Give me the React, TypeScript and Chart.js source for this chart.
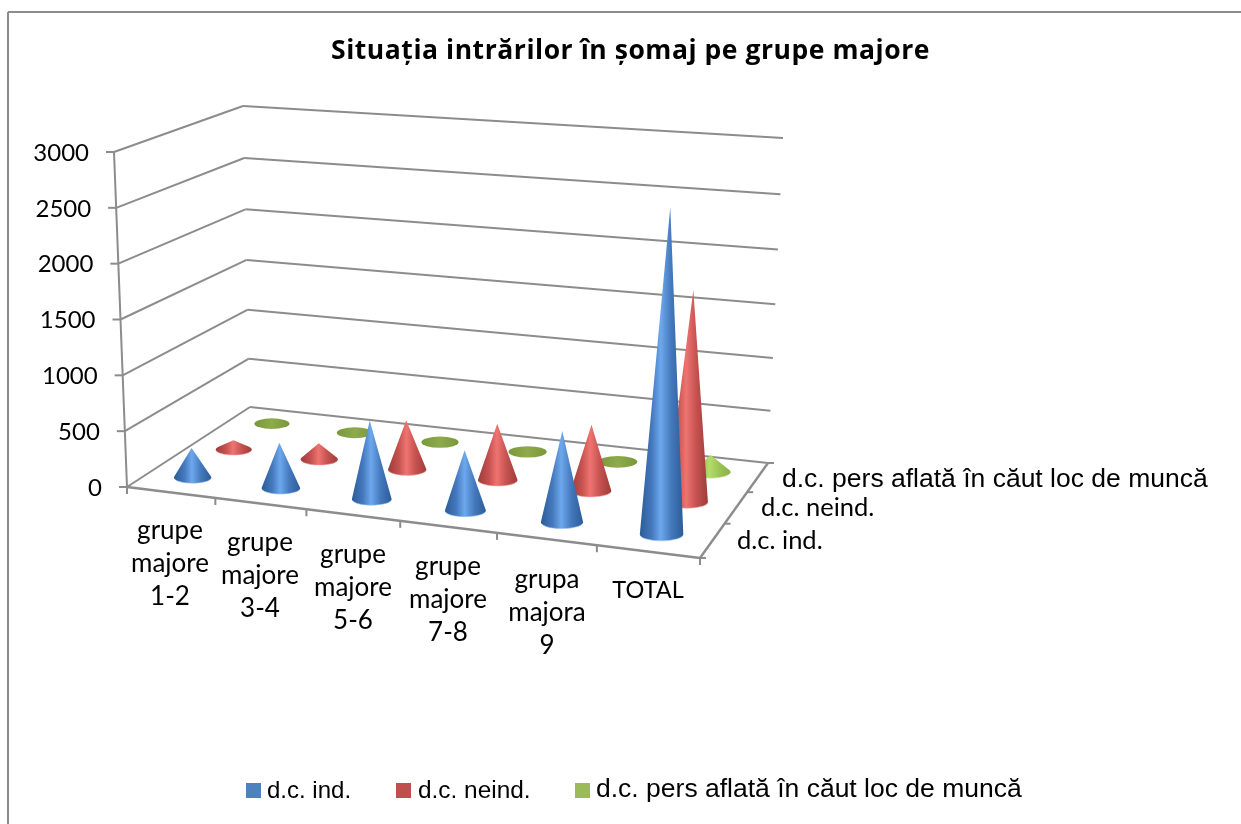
import React, { useEffect, useRef } from "react";
import { Chart, BarController, BarElement, CategoryScale, LinearScale } from "chart.js";

const TITLE = "Situația intrărilor în șomaj pe grupe majore";
const categories = ["grupe majore 1-2", "grupe majore 3-4", "grupe majore 5-6", "grupe majore 7-8", "grupa majora 9", "TOTAL"];
const categoryLines = [["grupe", "majore", "1-2"], ["grupe", "majore", "3-4"], ["grupe", "majore", "5-6"], ["grupe", "majore", "7-8"], ["grupa", "majora", "9"], ["TOTAL"]];
const seriesNames = ["d.c. ind.", "d.c. neind.", "d.c. pers aflată în căut loc de muncă"];
const ind = [270, 410, 700, 530, 790, 2780];
const neind = [90, 155, 460, 520, 600, 1880];
const caut = [10, 12, 10, 14, 12, 160];
const yTicks = { min: 0, max: 3000, step: 500 };

const LINE = "#8c8c8c";
const LATO = "Lato, sans-serif";
const ARIAL = "'Liberation Sans', Arial, sans-serif";

const palettes = [
  { edge: "#2c5c98", mid: "#4579bd", light: "#6ea8ec", flat: "#4a83c9", rim: "#8fc0f5", swatch: "#4F81BD" },
  { edge: "#9c3d3a", mid: "#c65250", light: "#ee7471", flat: "#c0504d", rim: "#f5a09e", swatch: "#C0504D" },
  { edge: "#8cb04a", mid: "#9cc455", light: "#b4dc6a", flat: "#7a983a", rim: "#cfe89a", swatch: "#9BBB59" },
];

// Perspective frame of the 3-D box (screen layout, not data)
type Pt = { x: number; y: number };
const floorQuad: Pt[] = [{ x: 127, y: 487 }, { x: 700, y: 558 }, { x: 768, y: 463 }, { x: 250, y: 407 }];
const topQuad: Pt[] = [{ x: 114, y: 152 }, { x: 714, y: 196 }, { x: 783, y: 138 }, { x: 243, y: 106 }];

function homography(q: Pt[]) {
  const [p0, p1, p2, p3] = q;
  const dx1 = p1.x - p2.x, dx2 = p3.x - p2.x, sx = p0.x - p1.x + p2.x - p3.x;
  const dy1 = p1.y - p2.y, dy2 = p3.y - p2.y, sy = p0.y - p1.y + p2.y - p3.y;
  const det = dx1 * dy2 - dx2 * dy1;
  const g = (sx * dy2 - dx2 * sy) / det;
  const h = (dx1 * sy - sx * dy1) / det;
  const a = p1.x - p0.x + g * p1.x, b = p3.x - p0.x + h * p3.x;
  const d = p1.y - p0.y + g * p1.y, e = p3.y - p0.y + h * p3.y;
  return (u: number, v: number): Pt => {
    const w = 1 + g * u + h * v;
    return { x: (p0.x + a * u + b * v) / w, y: (p0.y + d * u + e * v) / w };
  };
}
const floorMap = homography(floorQuad);
const topMap = homography(topQuad);
function P(u: number, v: number, t: number): Pt {
  const a = floorMap(u, v), b = topMap(u, v);
  const tt = t - 0.045 * v * t * (1 - t);
  return { x: a.x + (b.x - a.x) * tt, y: a.y + (b.y - a.y) * tt };
}

class ConeController extends BarController {
  static id = "cone";
  static defaults = {};
  draw() {
    const meta: any = this.getMeta();
    const ctx: CanvasRenderingContext2D = (this as any).chart.ctx;
    const xs = meta.xScale, ys = meta.yScale;
    const n = xs.getLabels().length;
    const series = meta.index;
    const depth = (series + 0.5) / 3;
    const pal = palettes[series];
    for (let i = 0; i < n; i++) {
      const val = this.getParsed(i) as any;
      const u = (xs.getPixelForValue(i) - xs.left) / (xs.right - xs.left);
      const t = (ys.bottom - ys.getPixelForValue(val.y)) / (ys.bottom - ys.top);
      const c = P(u, depth, 0);
      const apex = P(u, depth, t);
      const l = P(u - 1 / (2 * n), depth, 0), r = P(u + 1 / (2 * n), depth, 0);
      const rx = (r.x - l.x) * 0.215;
      const ry = rx * 0.3;
      const h = c.y - apex.y;
      ctx.save();
      if (h <= ry * 1.15) {
        const g = ctx.createLinearGradient(c.x - rx, 0, c.x + rx, 0);
        g.addColorStop(0, pal.flat);
        g.addColorStop(0.5, "#8dab4c");
        g.addColorStop(1, pal.flat);
        ctx.fillStyle = g;
        ctx.beginPath();
        ctx.ellipse(c.x, c.y, rx, ry, 0, 0, Math.PI * 2);
        ctx.fill();
        ctx.restore();
        continue;
      }
      const s = Math.asin(ry / h);
      const g = ctx.createLinearGradient(c.x - rx, 0, c.x + rx, 0);
      g.addColorStop(0, pal.edge);
      g.addColorStop(0.28, pal.mid);
      g.addColorStop(0.48, pal.light);
      g.addColorStop(0.72, pal.mid);
      g.addColorStop(1, pal.edge);
      ctx.fillStyle = g;
      ctx.beginPath();
      ctx.moveTo(apex.x, apex.y);
      ctx.ellipse(c.x, c.y, rx, ry, 0, Math.PI + s, -s, true);
      ctx.closePath();
      ctx.fill();
      ctx.strokeStyle = pal.rim;
      ctx.globalAlpha = 0.55;
      ctx.lineWidth = 1;
      ctx.beginPath();
      ctx.ellipse(c.x, c.y, rx, ry, 0, 0.25, Math.PI - 0.25);
      ctx.stroke();
      ctx.restore();
    }
  }
}

function text(ctx: CanvasRenderingContext2D, s: string, x: number, y: number, font: string, align: CanvasTextAlign = "left") {
  ctx.font = font;
  ctx.fillStyle = "#000";
  ctx.textAlign = align;
  ctx.textBaseline = "middle";
  ctx.fillText(s, x, y);
}

function seg(ctx: CanvasRenderingContext2D, a: Pt, b: Pt, w = 2) {
  ctx.lineWidth = w;
  ctx.strokeStyle = LINE;
  ctx.beginPath();
  ctx.moveTo(a.x, a.y);
  ctx.lineTo(b.x, b.y);
  ctx.stroke();
}

const labelAnchors = [[170, 531], [260, 543], [353, 555], [448, 567], [547, 580], [648, 590]];
const depthAnchors = [[737, 541], [761, 508], [782, 480]];
const depthFonts = [`25.5px ${LATO}`, `25.5px ${LATO}`, `26.5px ${ARIAL}`];
const legendSlots = [
  { box: 246, text: 267, y: 791, size: 24, boxY: 783 },
  { box: 396, text: 418, y: 791, size: 24.4, boxY: 783 },
  { box: 575, text: 596, y: 790, size: 26.5, boxY: 783 },
];

const framePlugin = {
  id: "frame",
  beforeDatasetsDraw(chart: any) {
    const ctx: CanvasRenderingContext2D = chart.ctx;
    const ys = chart.scales.y, xs = chart.scales.x;
    ctx.save();
    // outer border
    seg(ctx, { x: 8, y: 12 }, { x: 1241, y: 12 });
    seg(ctx, { x: 8, y: 12 }, { x: 8, y: 824 });
    // walls and floor
    ys.ticks.forEach((tk: any) => {
      const t = (ys.bottom - ys.getPixelForValue(tk.value)) / (ys.bottom - ys.top);
      const a = P(0, 0, t), b = P(0, 1, t), c = P(1, 1, t);
      seg(ctx, a, b);
      seg(ctx, b, c);
      seg(ctx, a, { x: a.x - 8, y: a.y });
      text(ctx, String(tk.value), a.x - 25, a.y + 1, `24px ${LATO}`, "right");
    });
    seg(ctx, P(0, 0, 0), P(0, 0, 1));
    seg(ctx, P(0, 0, 0), P(1, 0, 0), 2.4);
    seg(ctx, P(1, 0, 0), P(1, 1, 0), 2.4);
    const n = xs.getLabels().length;
    for (let i = 0; i <= n; i++) {
      const p = P(i / n, 0, 0);
      seg(ctx, p, { x: p.x, y: p.y + 7 });
    }
    for (let k = 0; k <= 3; k++) {
      const p = P(1, k / 3, 0);
      seg(ctx, p, { x: p.x + 6, y: p.y });
    }
    // title, spaced out to the reference width
    const titleFont = `bold 26.5px 'Open Sans', sans-serif`;
    ctx.font = titleFont;
    (ctx as any).letterSpacing = "0px";
    const w0 = ctx.measureText(TITLE).width;
    (ctx as any).letterSpacing = `${(599 - w0) / TITLE.length}px`;
    text(ctx, TITLE, 630.5, 51, titleFont, "center");
    (ctx as any).letterSpacing = "0px";
    categoryLines.forEach((lines, i) => {
      const size = lines.length === 1 ? 23.5 : 26;
      lines.forEach((ln, j) => text(ctx, ln, labelAnchors[i][0], labelAnchors[i][1] + j * 33, `${size}px ${LATO}`, "center"));
    });
    seriesNames.forEach((nm, i) => text(ctx, nm, depthAnchors[i][0], depthAnchors[i][1], depthFonts[i]));
    seriesNames.forEach((nm, i) => {
      const sl = legendSlots[i];
      ctx.fillStyle = palettes[i].swatch;
      ctx.fillRect(sl.box, sl.boxY, 15, 15);
      text(ctx, nm, sl.text, sl.y, `${sl.size}px ${ARIAL}`);
    });
    ctx.restore();
  },
};

Chart.register(ConeController, BarElement, CategoryScale, LinearScale);

export default function App() {
  const ref = useRef<HTMLCanvasElement>(null);
  useEffect(() => {
    const chart = new Chart(ref.current!, {
      type: "cone" as any,
      data: {
        labels: categories,
        datasets: [
          { label: seriesNames[0], data: ind, backgroundColor: palettes[0].swatch, clip: false },
          { label: seriesNames[1], data: neind, backgroundColor: palettes[1].swatch, clip: false },
          { label: seriesNames[2], data: caut, backgroundColor: palettes[2].swatch, clip: false },
        ],
      },
      options: {
        responsive: false,
        animation: false,
        events: [],
        layout: { padding: { left: 127, right: 541, top: 152, bottom: 337 } },
        scales: {
          x: { type: "category", offset: true, grid: { display: false }, border: { display: false }, ticks: { display: false } },
          y: { type: "linear", min: yTicks.min, max: yTicks.max, grid: { display: false }, border: { display: false }, ticks: { display: false, stepSize: yTicks.step } },
        },
      } as any,
      plugins: [framePlugin],
    });
    return () => chart.destroy();
  }, []);
  return (
    <div style={{ position: "absolute", left: 0, top: 0, width: 1241, height: 824, background: "#fff" }}>
      <canvas ref={ref} width={1241} height={824} style={{ display: "block" }} />
    </div>
  );
}
